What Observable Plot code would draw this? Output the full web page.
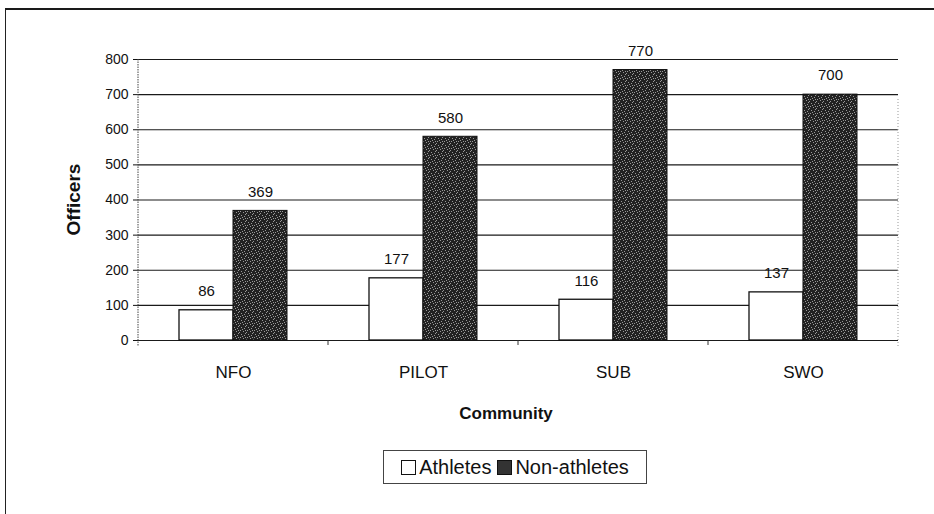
<!DOCTYPE html>
<html>
<head>
<meta charset="utf-8">
<script src="https://cdn.jsdelivr.net/npm/d3@7"></script>
<script src="https://cdn.jsdelivr.net/npm/@observablehq/plot@0.6"></script>
<style>
  html, body { margin: 0; padding: 0; background: #fff; overflow: hidden; }
  body { font-family: "Liberation Sans", Arial, sans-serif; color: #111; }
  #wrap { position: relative; width: 934px; height: 514px; overflow: hidden; }
  #frame { position: absolute; left: 5px; top: 8px; width: 1000px; height: 600px;
           border-top: 2px solid #1a1a1a; border-left: 1.5px solid #222; box-sizing: border-box; }
  #chart { position: absolute; left: 0; top: 0; }
  #legend { position: absolute; left: 383px; top: 450px; height: 34px; width: 264px; box-sizing: border-box;
            border: 1px solid #444; display: flex; align-items: center; justify-content: center;
            font-size: 20px; white-space: nowrap; background: #fff; }
  .sw { display: inline-block; width: 15px; height: 15px; box-sizing: border-box; border: 1.5px solid #111; margin-right: 3px; }
  .sw.a { background: #fff; }
  .sw.n { background: #333; border-color: #111; margin-left: 6px; }
</style>
</head>
<body>
<div id="wrap">
  <div id="frame"></div>
  <div id="chart"></div>
  <div id="legend"><span class="sw a"></span><span>Athletes</span><span class="sw n"></span><span>Non-athletes</span></div>
</div>
<script>
const communities = ["NFO", "PILOT", "SUB", "SWO"];
const groups = ["Athletes", "Non-athletes"];
const athletes = [86, 177, 116, 137];
const nonAthletes = [369, 580, 770, 700];
const yTicks = [0, 100, 200, 300, 400, 500, 600, 700, 800];

const data = communities.flatMap((c, i) => [
  {community: c, group: groups[0], value: athletes[i]},
  {community: c, group: groups[1], value: nonAthletes[i]}
]);

const plot = Plot.plot({
  width: 934,
  height: 440,
  marginLeft: 137,
  marginRight: 36,
  marginTop: 59,
  marginBottom: 100,
  style: {fontFamily: '"Liberation Sans", Arial, sans-serif', fontSize: "13px", color: "#111", background: "transparent", overflow: "visible"},
  fx: {domain: communities, padding: 0},
  x: {domain: groups, paddingInner: 0, paddingOuter: 0.743, axis: null},
  y: {domain: [0, 800]},
  marks: [
    Plot.ruleY(yTicks, {stroke: "#1a1a1a", strokeWidth: 1.2}),
    Plot.barY(data.filter(d => d.group === groups[0]), {fx: "community", x: "group", y: "value", fill: "#fff", stroke: "#111", strokeWidth: 1.3}),
    Plot.barY(data.filter(d => d.group === groups[1]), {fx: "community", x: "group", y: "value", fill: "url(#speckle)", stroke: "#111", strokeWidth: 1}),
    Plot.text(data, {fx: "community", x: "group", y: "value", text: d => String(d.value), dy: -19, fontSize: 15, fill: "#111"}),
    Plot.axisY({ticks: yTicks, tickSize: 5, tickPadding: 5, fontSize: 14, label: null, tickFormat: d => String(d)}),
    Plot.axisFx({anchor: "bottom", tickSize: 0, tickPadding: 25, fontSize: 17, label: null})
  ]
});

// texture for the dark bars
const svg = d3.select(plot);
const defs = svg.insert("defs", ":first-child");
const pat = defs.append("pattern").attr("id", "speckle").attr("patternUnits", "userSpaceOnUse")
  .attr("width", 7).attr("height", 7);
pat.append("rect").attr("width", 7).attr("height", 7).attr("fill", "#222");
[[1,1],[4,2],[2,5],[6,4],[5,6],[0,3],[3,0],[6,1]].forEach(([px, py]) =>
  pat.append("rect").attr("x", px).attr("y", py).attr("width", 1).attr("height", 1).attr("fill", "#999"));

// decorations derived from the plot's scales
const fx = plot.scale("fx"), y = plot.scale("y");
const bw = fx.bandwidth;
const left = fx.apply(communities[0]);
const right = fx.apply(communities[communities.length - 1]) + bw;
const y0 = y.apply(0), yTop = y.apply(yTicks[yTicks.length - 1]);
const deco = svg.append("g");
deco.append("line").attr("x1", left).attr("x2", left).attr("y1", yTop).attr("y2", y0 + 6)
  .attr("stroke", "#444").attr("stroke-dasharray", "1.5,1").attr("stroke-width", 1);
deco.append("line").attr("x1", right).attr("x2", right).attr("y1", yTop + 40).attr("y2", y0 + 6)
  .attr("stroke", "#999").attr("stroke-dasharray", "1,2").attr("stroke-width", 1);
communities.slice(1).forEach(c => {
  const bx = fx.apply(c);
  deco.append("line").attr("x1", bx).attr("x2", bx).attr("y1", y0).attr("y2", y0 + 5)
    .attr("stroke", "#333").attr("stroke-width", 1);
});
// axis titles
deco.append("text").text("Officers")
  .attr("transform", `translate(75,${(yTop + y0) / 2}) rotate(-90)`)
  .attr("text-anchor", "middle").attr("dominant-baseline", "middle")
  .attr("font-size", 19).attr("font-weight", "bold").attr("fill", "#111");
deco.append("text").text("Community")
  .attr("x", (left + right) / 2 - 12).attr("y", y0 + 75)
  .attr("text-anchor", "middle").attr("dominant-baseline", "middle")
  .attr("font-size", 17).attr("font-weight", "bold").attr("fill", "#111");

document.getElementById("chart").appendChild(plot);
</script>
</body>
</html>
